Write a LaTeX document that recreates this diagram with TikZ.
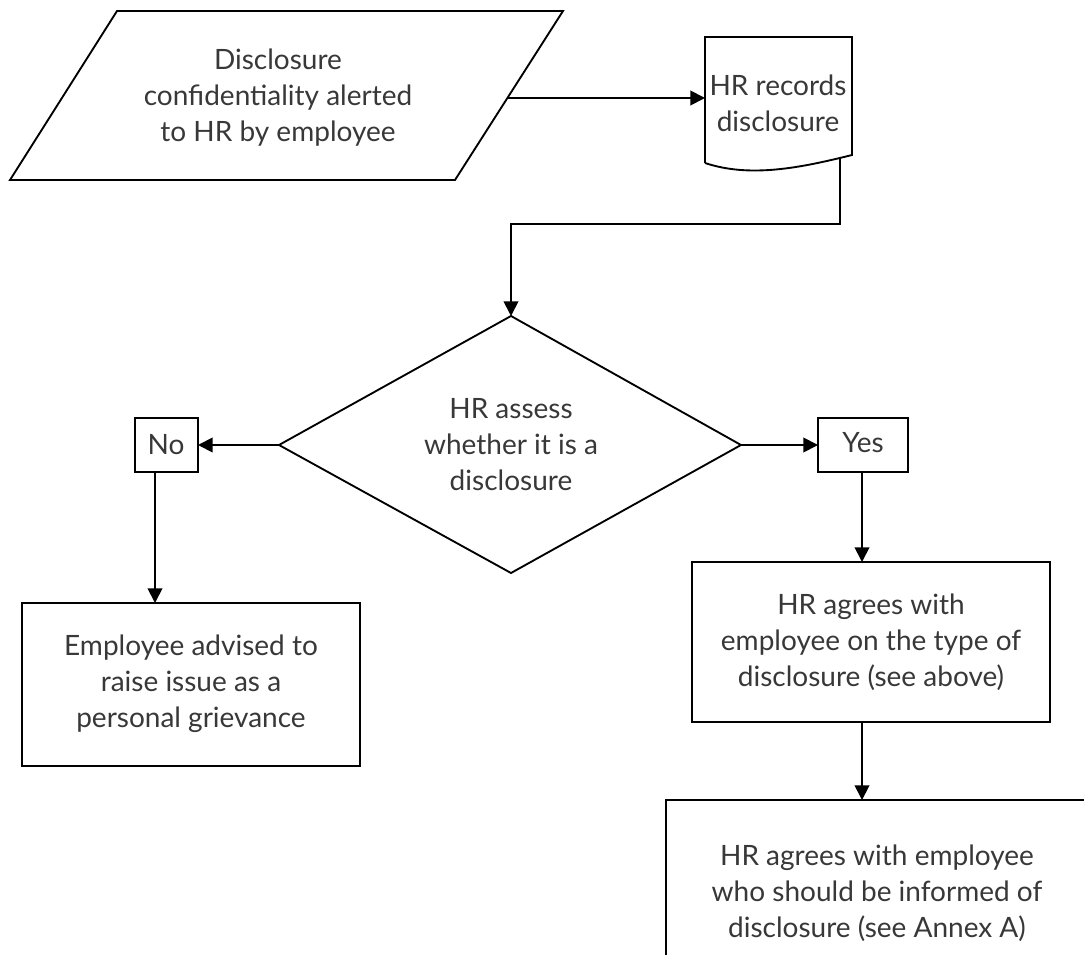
\documentclass[tikz,border=0pt]{standalone}
\usepackage{fontspec}
\setmainfont{Lato}
\usetikzlibrary{arrows.meta}
\begin{document}
\begin{tikzpicture}[x=0.75pt,y=-0.75pt,
  shp/.style={draw=black, line width=1.4pt, line join=miter},
  lbl/.style={font=\fontsize{21}{27}\selectfont, align=center, text=black!78, inner sep=0pt},
  arr/.style={draw=black, line width=1.4pt, -{Triangle[length=11pt,width=11pt]}},
  ln/.style={draw=black, line width=1.4pt}]
\useasboundingbox (0,0) rectangle (1084,955);
\clip (0,0) rectangle (1084,955);
% coordinates of shapes
\coordinate (pOut) at (507,98);
\coordinate (docIn) at (705,98);
\coordinate (docOut) at (840,158);
\coordinate (bendA) at (840,224);
\coordinate (bendB) at (511,224);
\coordinate (diaTop) at (511,316);
\coordinate (diaL) at (279,445);
\coordinate (diaR) at (741,445);
\coordinate (noR) at (198,445);
\coordinate (noB) at (155,472);
\coordinate (yesL) at (818,445);
\coordinate (yesB) at (862,472);
\coordinate (empT) at (155,603);
\coordinate (agT) at (862,562);
\coordinate (agB) at (862,722);
\coordinate (infT) at (862,800);
% shapes
\draw[shp] (10,180) -- (117,11) -- (563,11) -- (455,180) -- cycle;
\draw[shp] (705,163) -- (705,37) -- (852,37) -- (852,155)
   .. controls (800,168) and (750,178) .. (705,163);
\draw[shp] (diaTop) -- (diaR) -- (511,573) -- (diaL) -- cycle;
\draw[shp] (135,418) rectangle (198,472);
\draw[shp] (818,418) rectangle (908,472);
\draw[shp] (22,603) rectangle (360,766);
\draw[shp] (692,562) rectangle (1050,722);
\draw[shp] (666,800) rectangle (1088,990);
% labels
\node[lbl] (input) at (278,98) {Disclosure\\confidentiality alerted\\to HR by employee};
\node[lbl] (records) at (778,103) {HR records\\disclosure};
\node[lbl] (assess) at (511,445) {HR assess\\whether it is a\\disclosure};
\node[lbl] (no) at (166,445) {No};
\node[lbl] (yes) at (863,443) {Yes};
\node[lbl] (advised) at (191,684) {Employee advised to\\raise issue as a\\personal grievance};
\node[lbl] (agrees) at (871,642) {HR agrees with\\employee on the type of\\disclosure (see above)};
\node[lbl] (informed) at (877,893) {HR agrees with employee\\who should be informed of\\disclosure (see Annex A)};
% connectors
\draw[arr] (pOut) -- (docIn);
\draw[arr] (docOut) -- (bendA) -- (bendB) -- (diaTop);
\draw[arr] (diaL) -- (noR);
\draw[arr] (diaR) -- (yesL);
\draw[arr] (noB) -- (empT);
\draw[arr] (yesB) -- (agT);
\draw[arr] (agB) -- (infT);
\end{tikzpicture}
\end{document}
